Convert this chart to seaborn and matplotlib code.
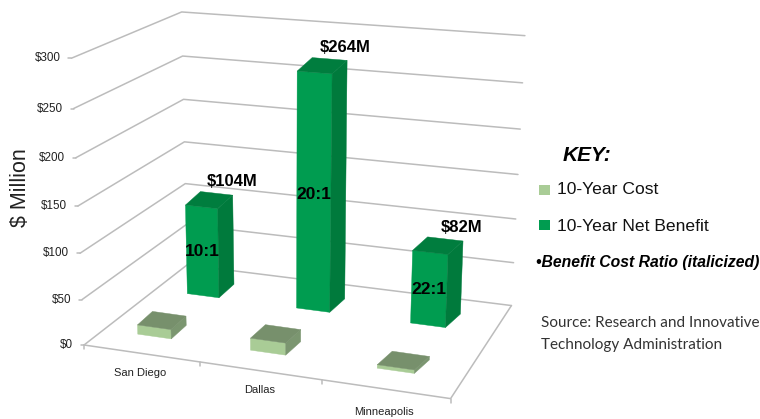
import numpy as np
import pandas as pd
import matplotlib
matplotlib.use("Agg")
import matplotlib.pyplot as plt
import seaborn as sns

# Chart data
cities = ["San Diego", "Dallas", "Minneapolis"]
net_benefit = [104, 264, 82]
cost = [10.4, 13.2, 3.7]
ratios = ["10:1", "20:1", "22:1"]
value_ticks = [0, 50, 100, 150, 200, 250, 300]

sns.set_theme(style="white")
plt.rcParams["font.family"] = ["Liberation Sans", "DejaVu Sans"]

GRID = "#bcbcbc"
BENEFIT = ("#009c50", "#007a3c", "#007d3e")   # front, side, top
COST = ("#a9cc96", "#7b9670", "#77906c")
BAR_DEPTH = (15, -13.5)   # on-canvas extrusion of every bar

# Camera for the box: category axis 0-3, depth 0-1, value axis 0-300,
# solved from where the box corners sit on the canvas.
world = np.array([[0, 0, 0], [3, 0, 0], [0, 1, 0], [3, 1, 0],
                  [0, 0, 300], [0, 1, 300], [3, 1, 300]], float)
canvas = np.array([[83, 343], [451, 400], [188, 267], [511, 304],
                   [72, 59], [181, 11], [525, 36]], float)
rows = []
for (u, v, h), (x, y) in zip(world, canvas):
    w = [u / 3, v, h / 300, 1]
    rows.append(w + [0, 0, 0, 0] + [-x / 500 * c for c in w])
    rows.append([0, 0, 0, 0] + w + [-y / 500 * c for c in w])
camera = np.linalg.svd(np.array(rows))[2][-1].reshape(3, 4)


def project(u, v, h):
    p = camera @ np.array([u / 3, v, h / 300, 1.0])
    return p[0] / p[2] * 500, p[1] / p[2] * 500


def draw_bar(ax, u0, u1, v, h, colors):
    a, b = project(u0, v, 0), project(u1, v, 0)
    c, d = project(u1, v, h), project(u0, v, h)
    shift = lambda p: (p[0] + BAR_DEPTH[0], p[1] + BAR_DEPTH[1])
    front = [a, b, c, d]
    side = [b, shift(b), shift(c), c]
    top = [d, c, shift(c), shift(d)]
    for face, color in zip((front, side, top), colors):
        ax.fill(*zip(*face), color=color, lw=0.3, zorder=3)


fig = plt.figure(figsize=(7.6, 4.19), dpi=100)
ax = fig.add_axes([0, 0, 1, 1])

# Wall and floor rules
segments = []
for i, h in enumerate(value_ticks):
    a, b, c = project(0, 0, h), project(0, 1, h), project(3, 1, h)
    segments += [(f"g{i}", *a), (f"g{i}", *b), (f"g{i}", *c)]
    segments += [(f"t{i}", a[0] - 3, a[1]), (f"t{i}", *a)]
floor = [project(0, 0, 0), project(3, 0, 0), project(3, 1, 0)]
segments += [("floor", *p) for p in floor]
for k in range(4):
    p = project(k, 0, 0)
    segments += [(f"c{k}", *p), (f"c{k}", p[0], p[1] + 4)]
rules = pd.DataFrame(segments, columns=["rule", "px", "py"])
sns.lineplot(data=rules, x="px", y="py", units="rule", estimator=None, sort=False,
             color=GRID, lw=1.1, legend=False, ax=ax, zorder=1)

# Bars: the net benefit row stands behind the cost row
benefit_centers = [0.45, 1.455, 2.455]
cost_centers = [0.45, 1.43, 2.475]
half = 0.148
for c, h in zip(benefit_centers, net_benefit):
    draw_bar(ax, c - half, c + half, 0.665, h, BENEFIT)
for c, h in zip(cost_centers, cost):
    draw_bar(ax, c - half, c + half, 0.175, h, COST)

for c, h, r in zip(benefit_centers, net_benefit, ratios):
    x, y = project(c, 0.665, h)
    ax.text(x + 31, y - 25, f"${h}M", ha="center", va="center", fontsize=12,
            fontweight="bold", color="black", zorder=5)
    fx, fy = project(c, 0.665, h / 2)
    ax.text(fx, fy, r, ha="center", va="center", fontsize=12.5,
            fontweight="bold", color="black", zorder=5)

# Axis text
for h in value_ticks:
    x, y = project(0, 0, h)
    ax.text(x - 11, y, f"${h}", ha="right", va="center", fontsize=8.4, color="#222222")
for name, x, y in zip(cities, (140, 260, 384), (373, 390, 412)):
    ax.text(x, y, name, ha="center", va="center", fontsize=8, color="#222222")
ax.text(20, 188, "$ Million", rotation=90, ha="center", va="center", fontsize=15.5, color="#222222")

# Key
swatches = pd.DataFrame({"px": [544.5, 544.5], "py": [190, 225],
                         "series": ["10-Year Cost", "10-Year Net Benefit"]})
sns.scatterplot(data=swatches, x="px", y="py", hue="series",
                palette=[COST[0], BENEFIT[0]], marker="s", s=55, linewidth=0,
                legend=False, ax=ax, zorder=4)
ax.text(587, 155, "KEY:", ha="center", va="center", fontsize=15, fontweight="bold",
        fontstyle="italic", color="black")
ax.text(557, 189, "10-Year Cost", va="center", fontsize=12.6, color="#111111")
ax.text(557, 226, "10-Year Net Benefit", va="center", fontsize=12.6, color="#111111")
ax.text(536, 262, "•Benefit Cost Ratio (italicized)", va="center", fontsize=11.3,
        fontweight="bold", fontstyle="italic", color="black")
ax.text(541, 323, "Source: Research and Innovative", va="center", fontsize=11,
        family="Lato", color="#333333")
ax.text(541, 345, "Technology Administration", va="center", fontsize=11,
        family="Lato", color="#333333")

ax.set_xlim(0, 760)
ax.set_ylim(419, 0)
ax.axis("off")
fig.savefig("out.png", dpi=100, facecolor="white")
